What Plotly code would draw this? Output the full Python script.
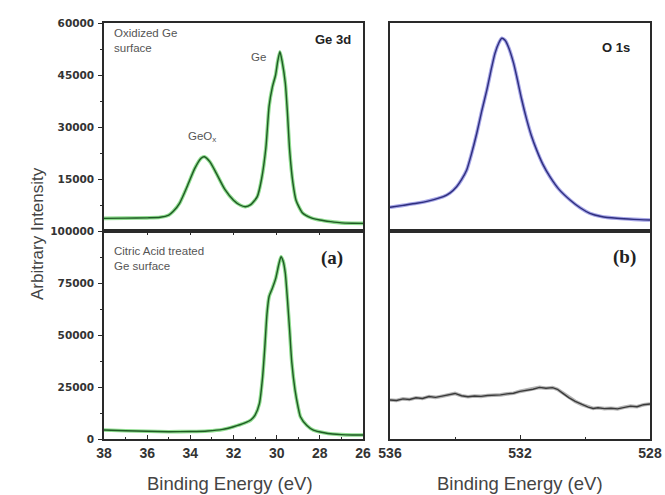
import plotly.graph_objects as go

# ---------------- data ----------------
ge_ox_ev = [38.0, 37.0, 36.0, 35.4, 35.0, 34.8, 34.5, 34.15, 33.8, 33.5, 33.35, 33.1, 32.8, 32.4,
            32.0, 31.7, 31.45, 31.2, 30.9, 30.7, 30.5, 30.35, 30.2, 30.05, 29.95, 29.85, 29.75,
            29.6, 29.5, 29.4, 29.25, 29.1, 28.8, 28.4, 28.0, 27.5, 27.0, 26.5, 26.0]
ge_ox_int = [3650, 3700, 3800, 3950, 4600, 5600, 8000, 12800, 18000, 21000, 21400, 20000, 16700, 12000,
             8900, 7500, 7000, 7600, 9900, 15000, 24000, 36000, 41500, 45000, 49000, 51700, 49000,
             42700, 34000, 23400, 14000, 8800, 5200, 3800, 3170, 2700, 2350, 2250, 2200]

ge_ca_ev = [38.0, 37.0, 36.0, 35.0, 34.0, 33.2, 32.5, 32.0, 31.5, 31.2, 31.0, 30.8, 30.65, 30.55,
            30.45, 30.35, 30.2, 30.05, 29.9, 29.8, 29.7, 29.6, 29.5, 29.4, 29.3, 29.15, 29.0, 28.9,
            28.6, 28.3, 27.8, 27.4, 27.0, 26.5, 26.0]
ge_ca_int = [4300, 4000, 3700, 3500, 3600, 3850, 4600, 5900, 7600, 9100, 11500, 17000, 30000, 44000,
             60000, 68500, 72500, 77000, 84000, 87600, 85500, 79700, 67000, 52400, 37000, 23600, 15000, 10700,
             6500, 4300, 3000, 2400, 2100, 1950, 1900]

o_ox_ev = [536.0, 535.6, 535.18, 534.8, 534.36, 534.15, 533.95, 533.8, 533.64, 533.5, 533.33, 533.18,
           533.02, 532.9, 532.77, 532.65, 532.56, 532.46, 532.36, 532.2, 532.1, 531.95, 531.79, 531.65,
           531.49, 531.3, 531.08, 530.8, 530.46, 530.15, 529.85, 529.5, 529.02, 528.5, 528.0]
o_ox_int = [6840, 7400, 7990, 8700, 9900, 11000, 12780, 14800, 17600, 22000, 28200, 34500,
            40700, 46000, 51250, 54300, 55600, 55000, 53170, 48500, 44500, 38000, 32000, 27500,
            23400, 19300, 15670, 12000, 8940, 6700, 5100, 4200, 3660, 3350, 3170]

o_ca_ev = [536.0, 535.8, 535.6, 535.4, 535.2, 535.0, 534.8, 534.6, 534.4, 534.2, 534.0, 533.8, 533.6,
           533.4, 533.2, 533.0, 532.8, 532.6, 532.4, 532.2, 532.0, 531.8, 531.6, 531.4, 531.2, 531.0,
           530.85, 530.7, 530.5, 530.3, 530.1, 529.9, 529.75, 529.6, 529.4, 529.2, 529.0, 528.8, 528.6,
           528.4, 528.2, 528.0]
o_ca_int = [18750, 18500, 19300, 19000, 19800, 19500, 20400, 20000, 20600, 21200, 21900, 20800, 20300,
            20700, 20500, 20900, 21000, 21200, 21700, 22000, 22900, 23400, 23900, 24800, 24400, 24700,
            23900, 22200, 19900, 18100, 16600, 15300, 14700, 15000, 14600, 14800, 14500, 15300, 15800,
            15500, 16500, 16800]

top_y_ticks = [15000, 30000, 45000, 60000]
top_y_labels = ["15000", "30000", "45000", "60000"]
bot_y_ticks = [0, 25000, 50000, 75000, 100000]
bot_y_labels = ["0", "25000", "50000", "75000", "100000"]
ge_x_ticks = [38, 36, 34, 32, 30, 28, 26]
o_x_ticks = [536, 532, 528]

# ---------------- figure ----------------
W, H = 665, 495
fig = go.Figure()

def px_x(p):
    return p / W

def px_y(p):
    return (H - p) / H

def add_curve(x, y, xa, ya, halo, core, shape="spline"):
    fig.add_trace(go.Scatter(x=x, y=y, xaxis=xa, yaxis=ya, mode="lines",
                             line=dict(color=halo, width=3.6, shape=shape, smoothing=0.6),
                             hoverinfo="skip", showlegend=False))
    fig.add_trace(go.Scatter(x=x, y=y, xaxis=xa, yaxis=ya, mode="lines",
                             line=dict(color=core, width=1.4, shape=shape, smoothing=0.6),
                             showlegend=False))

add_curve(ge_ox_ev, ge_ox_int, "x", "y", "#8fdc8f", "#1f5a24")
add_curve(ge_ca_ev, ge_ca_int, "x2", "y2", "#8fdc8f", "#1f5a24")
add_curve(o_ox_ev, o_ox_int, "x3", "y3", "#a5a5e6", "#2e2e7e")
add_curve(o_ca_ev, o_ca_int, "x4", "y4", "#b5b5b5", "#3a3a3a", shape="linear")

xl = [px_x(104), px_x(363)]
xr = [px_x(390), px_x(650)]
yt = [px_y(231), px_y(23)]
yb = [px_y(439), px_y(231)]

LC = "#2a2a2a"
line_common = dict(showline=True, linecolor=LC, linewidth=1.5, mirror=True,
                   showgrid=False, zeroline=False, automargin=False)
tickfont_y = dict(family="DejaVu Sans", size=10.5, color="#333333", weight="bold")
tickfont_x = dict(family="Liberation Sans", size=14, color="#333333", weight="bold")

fig.update_layout(
    width=W, height=H,
    autosize=False,
    margin=dict(l=0, r=0, t=0, b=0, pad=0, autoexpand=False),
    paper_bgcolor="white", plot_bgcolor="white",
    showlegend=False,
    xaxis=dict(domain=xl, anchor="y", range=[38, 26], showticklabels=False, ticks="", **line_common),
    yaxis=dict(domain=yt, anchor="x", range=[0, 60000], tickvals=top_y_ticks, ticktext=top_y_labels,
               ticks="outside", ticklen=4, tickwidth=1.3, tickcolor=LC,
               tickfont=tickfont_y, ticklabelstandoff=2,
               minor=dict(ticks="outside", ticklen=2, tickwidth=1, dtick=7500, tickcolor=LC),
               **line_common),
    xaxis2=dict(domain=xl, anchor="y2", range=[38, 26], tickvals=ge_x_ticks,
                ticks="inside", ticklen=4, tickwidth=1.3, tickcolor=LC,
                tickfont=tickfont_x,
                minor=dict(ticks="inside", ticklen=2.5, tickwidth=1, dtick=1, tickcolor=LC),
                showline=True, linecolor=LC, linewidth=1.5, mirror="ticks",
                showgrid=False, zeroline=False, automargin=False),
    yaxis2=dict(domain=yb, anchor="x2", range=[0, 100000], tickvals=bot_y_ticks, ticktext=bot_y_labels,
                ticks="outside", ticklen=4, tickwidth=1.3, tickcolor=LC,
                tickfont=tickfont_y, ticklabelstandoff=2,
                minor=dict(ticks="outside", ticklen=2, tickwidth=1, dtick=12500, tickcolor=LC),
                **line_common),
    xaxis3=dict(domain=xr, anchor="y3", range=[536, 528], showticklabels=False, ticks="", **line_common),
    yaxis3=dict(domain=yt, anchor="x3", range=[0, 60000], showticklabels=False, ticks="", **line_common),
    xaxis4=dict(domain=xr, anchor="y4", range=[536, 528], tickvals=o_x_ticks,
                ticks="inside", ticklen=4, tickwidth=1.3, tickcolor=LC,
                tickfont=tickfont_x,
                minor=dict(ticks="inside", ticklen=2.5, tickwidth=1, dtick=2, tickcolor=LC),
                **line_common),
    yaxis4=dict(domain=yb, anchor="x4", range=[0, 100000], showticklabels=False, ticks="", **line_common),
)

lab = dict(family="Liberation Sans", size=11.5, color="#555555")
ann = [
    dict(text="Oxidized Ge<br>surface", x=37.63, y=59300, xref="x", yref="y",
         xanchor="left", yanchor="top", align="left", font=lab),
    dict(text="<b>Ge 3d</b>", x=26.45, y=55200, xref="x", yref="y",
         xanchor="right", yanchor="middle", font=dict(family="Liberation Sans", size=13, color="#222222")),
    dict(text="Ge", x=30.86, y=50200, xref="x", yref="y",
         xanchor="center", yanchor="middle", font=lab),
    dict(text="GeO<sub>x</sub>", x=33.45, y=27000, xref="x", yref="y",
         xanchor="center", yanchor="middle", font=lab),
    dict(text="Citric Acid treated<br>Ge surface", x=37.63, y=94300, xref="x2", yref="y2",
         xanchor="left", yanchor="top", align="left", font=lab),
    dict(text="<b>(a)</b>", x=27.45, y=87000, xref="x2", yref="y2",
         xanchor="center", yanchor="middle", font=dict(family="Liberation Serif", size=19, color="#222222")),
    dict(text="<b>O 1s</b>", x=529.05, y=53000, xref="x3", yref="y3",
         xanchor="center", yanchor="middle", font=dict(family="Liberation Sans", size=13, color="#222222")),
    dict(text="<b>(b)</b>", x=528.8, y=87500, xref="x4", yref="y4",
         xanchor="center", yanchor="middle", font=dict(family="Liberation Serif", size=19, color="#222222")),
    dict(text="Arbitrary Intensity", x=px_x(37), y=px_y(234), xref="paper", yref="paper",
         textangle=-90, xanchor="center", yanchor="middle",
         font=dict(family="Liberation Sans", size=17, color="#444444")),
    dict(text="Binding Energy (eV)", x=px_x(230), y=px_y(483), xref="paper", yref="paper",
         xanchor="center", yanchor="middle", font=dict(family="Liberation Sans", size=18.5, color="#444444")),
    dict(text="Binding Energy (eV)", x=px_x(520), y=px_y(483), xref="paper", yref="paper",
         xanchor="center", yanchor="middle", font=dict(family="Liberation Sans", size=18.5, color="#444444")),
]
for a in ann:
    a["showarrow"] = False
fig.update_layout(annotations=ann)

fig.write_html(
    "out.html",
    config={"responsive": False, "displayModeBar": False},
    post_script="document.documentElement.style.margin='0';document.body.style.margin='0';"
                "document.body.style.padding='0';document.body.style.overflow='hidden';",
)
